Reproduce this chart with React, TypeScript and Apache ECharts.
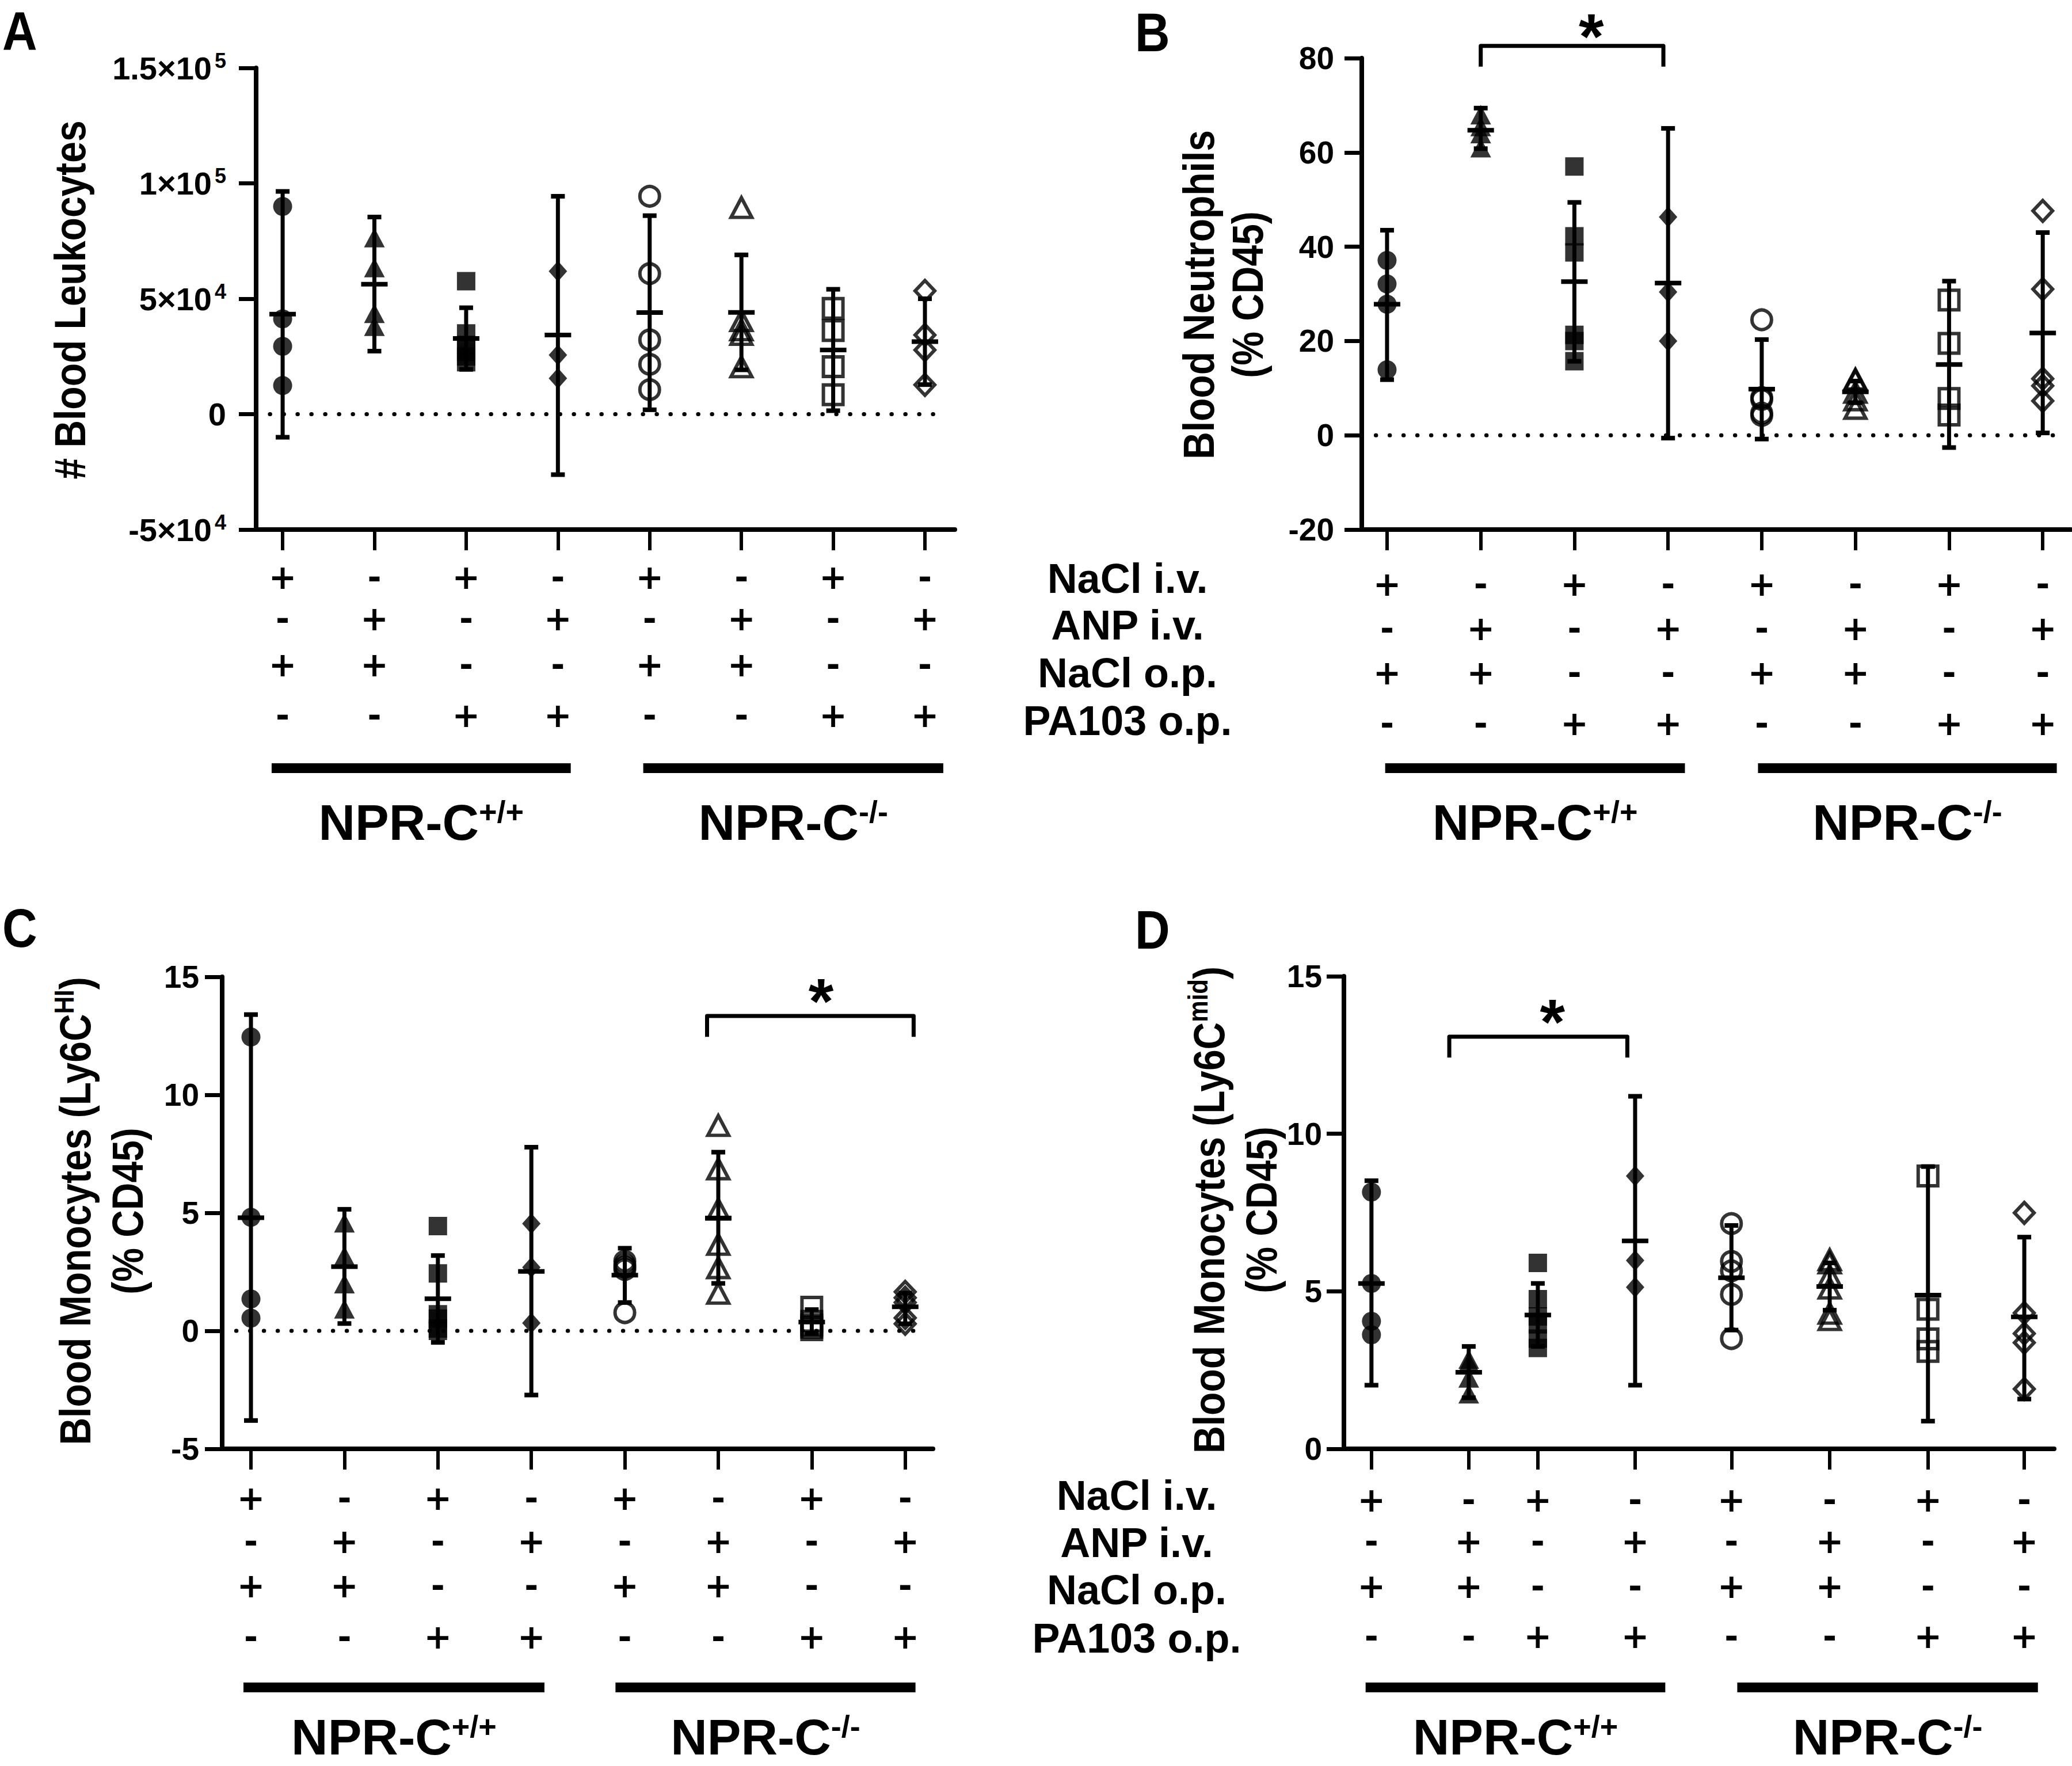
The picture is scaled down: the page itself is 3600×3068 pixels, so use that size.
import React, { useEffect, useRef } from "react";
import * as echarts from "echarts";

const FONT_TICK = "'Liberation Sans', Arial, sans-serif";
const FONT_SIGN = "'DejaVu Sans', 'Liberation Sans', sans-serif";

// ---------------- shared categories ----------------
const naclIV = ["+", "-", "+", "-", "+", "-", "+", "-"];
const anpIV = ["-", "+", "-", "+", "-", "+", "-", "+"];
const naclOP = ["+", "+", "-", "-", "+", "+", "-", "-"];
const pa103OP = ["-", "-", "+", "+", "-", "-", "+", "+"];
const treatmentRows = [naclIV, anpIV, naclOP, pa103OP];
const treatmentNames = ["NaCl i.v.", "ANP i.v.", "NaCl o.p.", "PA103 o.p."];
const genotypeBase = ["NPR-C", "NPR-C"];
const genotypeSup = ["+/+", "-/-"];
const groupSymbols = ["circle", "triangle", "rect", "diamond", "circle", "triangle", "rect", "diamond"];
const groupOpen = [false, false, false, false, true, true, true, true];

// category positions on the x axis
const posUniform = [1, 2, 3, 4, 5, 6, 7, 8];
const posD = [1, 2, 2.71, 3.71, 4.7, 5.71, 6.72, 7.71];

// ---------------- Panel A : # Blood Leukocytes ----------------
const aPoints = [
  [90000, 41300, 29400, 12400],
  [76500, 63500, 43700, 38100],
  [57600, 35000, 30000, 27000, 25000, 22500],
  [61900, 25600, 15500],
  [94400, 60900, 32200, 21600, 10600],
  [89500, 40500, 36500, 34500, 20500],
  [45800, 36200, 20600, 8400],
  [53400, 34300, 27800, 12700],
];
const aMean = [43300, 56300, 32800, 34300, 44000, 44100, 27800, 31400];
const aLow = [-10000, 27300, 19400, -26200, 1900, 19200, 1500, 12800];
const aHigh = [96500, 85400, 46100, 94400, 86000, 69000, 54100, 50000];
const aTickValues = [-50000, 0, 50000, 100000, 150000];
const aTickBase = ["-5×10", "0", "5×10", "1×10", "1.5×10"];
const aTickExp = ["4", "", "4", "5", "5"];

// ---------------- Panel B : Blood Neutrophils ----------------
const bPoints = [
  [37.1, 32.1, 27.8, 13.9],
  [68.0, 65.5, 64.0, 61.0],
  [57.0, 42.2, 38.8, 21.3, 20.0, 15.7],
  [46.3, 30.4, 20.0],
  [24.5, 8.0, 7.6, 4.7, 4.2],
  [11.9, 11.7, 9.1, 7.5, 5.7],
  [28.7, 19.5, 7.8, 4.3],
  [47.6, 31.0, 12.0, 10.5, 7.3],
];
const bMean = [27.8, 64.7, 32.6, 32.3, 9.8, 9.2, 15.0, 21.7];
const bLow = [11.8, 60.8, 15.7, -0.6, -0.8, 6.9, -2.6, 0.5];
const bHigh = [43.5, 69.4, 49.4, 65.1, 20.3, 11.5, 32.7, 43.0];
const bBracket = { from: 2, to: 3.95, top: 82.6, leg: 78.2, starX: 3.18, starY: 86.2 };

// ---------------- Panel C : Blood Monocytes Ly6C HI ----------------
const cPoints = [
  [12.45, 4.81, 1.35, 0.54],
  [4.58, 3.18, 2.0, 0.93],
  [4.44, 2.43, 0.7, 0.52, 0.1, 0.0],
  [4.54, 2.69, 0.33],
  [2.95, 2.8, 2.7, 2.6, 0.77],
  [8.7, 6.86, 5.15, 3.66, 2.67, 1.59],
  [1.0, 0.4, 0.25, 0.15, 0.05],
  [1.65, 1.4, 1.2, 0.55, 0.3],
];
const cMean = [4.79, 2.72, 1.36, 2.52, 2.36, 4.78, 0.37, 1.02];
const cLow = [-3.8, 0.31, -0.49, -2.72, 1.2, 2.01, -0.1, 0.3];
const cHigh = [13.4, 5.15, 3.19, 7.78, 3.5, 7.57, 0.9, 1.6];
const cBracket = { from: 5.88, to: 8.09, top: 13.34, leg: 12.46, starX: 7.1, starY: 14.27 };

// ---------------- Panel D : Blood Monocytes Ly6C mid ----------------
const dPoints = [
  [8.15, 5.25, 4.05, 3.62],
  [2.85, 2.75, 2.25, 1.75],
  [5.9, 4.75, 4.2, 3.95, 3.5, 3.2],
  [8.66, 5.98, 5.13],
  [7.15, 5.95, 5.65, 4.9, 3.5],
  [6.0, 5.9, 5.5, 5.1, 4.3, 4.1],
  [8.66, 4.43, 3.49, 3.09],
  [7.49, 4.31, 3.66, 3.37, 1.9],
];
const dMean = [5.25, 2.43, 4.25, 6.6, 5.43, 5.15, 4.88, 4.19];
const dLow = [2.02, 1.62, 3.25, 2.02, 3.77, 4.4, 0.88, 1.58];
const dHigh = [8.51, 3.25, 5.25, 11.19, 7.09, 5.9, 8.96, 6.72];
const dBracket = { from: 1.8, to: 3.63, top: 13.08, leg: 12.42, starX: 2.86, starY: 13.78 };

// group (genotype) bar spans, in x-axis units
const aSpans = [[0.88, 4.14], [4.93, 8.2]];
const bSpans = [[0.98, 4.18], [4.96, 8.15]];
const cSpans = [[0.92, 4.14], [4.9, 8.11]];
const dSpans = [[0.94, 4.02], [4.76, 7.85]];

// y-axis titles (rich text, one entry per line)
const aTitle = ["{t|# Blood Leukocytes}"];
const bTitle = ["{t|Blood Neutrophils}", "{t|(% CD45)}"];
const cTitle = ["{t|Blood Monocytes (Ly6C}{s|HI}{t|)}", "{t|(% CD45)}"];
const dTitle = ["{t|Blood Monocytes (Ly6C}{s|mid}{t|)}", "{t|(% CD45)}"];

// ---------------- layout ----------------
const layouts = [
  { left: 445, top: 118, width: 1214, height: 802, xMin: 0.711, xMax: 8.326, margin: 52, tickFont: 56, rowOff: [83, 155, 235, 323], genoOff: 508,
    titleX: [122], titleY: 521 },
  { left: 2366, top: 101, width: 1232, height: 819, xMin: 0.73, xMax: 8.3, margin: 48, tickFont: 55, rowOff: [95, 172, 249, 337], genoOff: 508,
    titleX: [2083, 2168], titleY: 512 },
  { left: 386, top: 1697, width: 1235, height: 820, xMin: 0.692, xMax: 8.297, margin: 40, tickFont: 55, rowOff: [86, 161, 238, 327], genoOff: 500,
    titleX: [131, 222], titleY: 2104 },
  { left: 2335, top: 1696, width: 1234, height: 821, xMin: 0.717, xMax: 8.017, margin: 38, tickFont: 55, rowOff: [89, 161, 239, 326], genoOff: 500,
    titleX: [2101, 2192], titleY: 2102 },
];

const panels = [
  { pos: posUniform, points: aPoints, mean: aMean, low: aLow, high: aHigh, yMin: -50000, yMax: 150000, yInt: 50000, spans: aSpans, bracket: null as any, zero: true, title: aTitle },
  { pos: posUniform, points: bPoints, mean: bMean, low: bLow, high: bHigh, yMin: -20, yMax: 80, yInt: 20, spans: bSpans, bracket: bBracket, zero: true, title: bTitle },
  { pos: posUniform, points: cPoints, mean: cMean, low: cLow, high: cHigh, yMin: -5, yMax: 15, yInt: 5, spans: cSpans, bracket: cBracket, zero: true, title: cTitle },
  { pos: posD, points: dPoints, mean: dMean, low: dLow, high: dHigh, yMin: 0, yMax: 15, yInt: 5, spans: dSpans, bracket: dBracket, zero: false, title: dTitle },
];

const filledSizes: any[] = [33, [36, 34], 32, [32, 36]];
const openSizes: any[] = [34, [36, 34], 34, [34, 36]];

const titleRich = {
  t: { fontSize: 66, fontWeight: "bold", fontFamily: FONT_TICK, fill: "#000", lineHeight: 76 },
  s: { fontSize: 42, fontWeight: "bold", fontFamily: FONT_TICK, fill: "#000", verticalAlign: "top", lineHeight: 50 },
};

function buildOption() {
  const grid: any[] = [];
  const xAxis: any[] = [];
  const yAxis: any[] = [];
  const series: any[] = [];
  const graphic: any[] = [];

  panels.forEach((p, pi) => {
    const L = layouts[pi];
    grid.push({ left: L.left, top: L.top, width: L.width, height: L.height, containLabel: false, outerBoundsMode: "none" });
    xAxis.push({
      gridIndex: pi, type: "value", min: L.xMin, max: L.xMax,
      axisLine: { show: true, onZero: false, lineStyle: { color: "#000", width: 8 } },
      axisTick: { show: true, customValues: p.pos, length: 36, lineStyle: { color: "#000", width: 6 } },
      axisLabel: { show: false }, splitLine: { show: false },
    });
    const tickRich = {
      b: { fontSize: L.tickFont, fontWeight: "bold", fontFamily: FONT_TICK, color: "#000", lineHeight: 62 },
      s: { fontSize: 36, fontWeight: "bold", fontFamily: FONT_TICK, color: "#000", verticalAlign: "top", lineHeight: 38, padding: [0, 0, 0, 5] },
    };
    yAxis.push({
      gridIndex: pi, type: "value", min: p.yMin, max: p.yMax, interval: p.yInt,
      axisLine: { show: true, onZero: false, lineStyle: { color: "#000", width: 8 } },
      axisTick: { show: true, length: 30, lineStyle: { color: "#000", width: 7 } },
      splitLine: { show: false },
      axisLabel: pi === 0
        ? {
            margin: L.margin, color: "#000", rich: tickRich,
            formatter: (v: number) => {
              const i = aTickValues.indexOf(v);
              if (i < 0) return "";
              return aTickExp[i] ? `{b|${aTickBase[i]}}{s|${aTickExp[i]}}` : `{b|${aTickBase[i]}}`;
            },
          }
        : { margin: L.margin, color: "#000", fontSize: L.tickFont, fontWeight: "bold", fontFamily: FONT_TICK },
    });

    // y-axis title lines (rotated)
    p.title.forEach((line, li) =>
      graphic.push({
        type: "text", x: L.titleX[li], y: L.titleY, rotation: Math.PI / 2, scaleY: 1.15,
        style: { text: line, rich: titleRich, align: "center", verticalAlign: "middle", fill: "#000" },
      })
    );

    // dotted zero line
    if (p.zero) {
      series.push({
        type: "line", xAxisIndex: pi, yAxisIndex: pi, silent: true, z: 1, symbol: "none",
        data: [[L.xMin + 0.15, 0], [L.xMax - 0.15, 0]],
        lineStyle: { color: "#000", width: 7, type: [0.5, 23.5], cap: "round" },
      });
    }

    // error bars + mean
    series.push({
      type: "custom", xAxisIndex: pi, yAxisIndex: pi, silent: true, z: 3,
      data: p.pos.map((x, g) => [x, p.mean[g], p.low[g], p.high[g]]),
      renderItem: (_params: any, api: any) => {
        const x = api.value(0);
        const m = api.coord([x, api.value(1)]);
        const lo = api.coord([x, api.value(2)]);
        const hi = api.coord([x, api.value(3)]);
        return {
          type: "group",
          children: [
            { type: "line", shape: { x1: lo[0], y1: lo[1], x2: hi[0], y2: hi[1] }, style: { stroke: "#000", lineWidth: 7 } },
            { type: "rect", shape: { x: hi[0] - 12, y: hi[1] - 4, width: 24, height: 8 }, style: { fill: "#000" } },
            { type: "rect", shape: { x: lo[0] - 12, y: lo[1] - 4, width: 24, height: 8 }, style: { fill: "#000" } },
            { type: "rect", shape: { x: m[0] - 23, y: m[1] - 4, width: 46, height: 8 }, style: { fill: "#000" } },
          ],
        };
      },
    });

    // individual points
    const pts: any[] = [];
    p.points.forEach((arr, g) =>
      arr.forEach((v) =>
        pts.push({
          value: [p.pos[g], v],
          symbol: groupSymbols[g],
          symbolSize: (groupOpen[g] ? openSizes : filledSizes)[g % 4],
          itemStyle: groupOpen[g]
            ? { color: "rgba(255,255,255,0)", borderColor: "#000", borderWidth: 6 }
            : { color: "#000", borderWidth: 0 },
        })
      )
    );
    series.push({ type: "scatter", xAxisIndex: pi, yAxisIndex: pi, silent: true, z: 4, clip: false, data: pts });

    // significance bracket
    if (p.bracket) {
      const br = p.bracket;
      series.push({
        type: "custom", xAxisIndex: pi, yAxisIndex: pi, silent: true, z: 3,
        data: [[br.from, br.top, br.to, br.leg, br.starX, br.starY]],
        renderItem: (_params: any, api: any) => {
          const a = api.coord([api.value(0), api.value(1)]);
          const b = api.coord([api.value(2), api.value(1)]);
          const legY = api.coord([api.value(0), api.value(3)])[1];
          const st = api.coord([api.value(4), api.value(5)]);
          return {
            type: "group",
            children: [
              {
                type: "polyline",
                shape: { points: [[a[0], legY], [a[0], a[1]], [b[0], b[1]], [b[0], legY]] },
                style: { stroke: "#000", lineWidth: 7, fill: "none", lineJoin: "round" },
              },
              {
                type: "text", x: st[0], y: st[1] + 13,
                style: { text: "*", fill: "#000", font: `bold 112px ${FONT_TICK}`, align: "center", verticalAlign: "middle" },
              },
            ],
          };
        },
      });
    }

    // treatment +/- rows
    series.push({
      type: "custom", xAxisIndex: pi, yAxisIndex: pi, silent: true, z: 3,
      data: p.pos.map((x, i) => [x, p.yMin, i]),
      renderItem: (_params: any, api: any) => {
        const i = api.value(2);
        const pt = api.coord([api.value(0), api.value(1)]);
        return {
          type: "group",
          children: treatmentRows.map((row, r) => ({
            type: "text", x: pt[0], y: pt[1] + L.rowOff[r],
            style: { text: row[i], fill: "#000", font: `bold 58px ${FONT_SIGN}`, lineHeight: 60, align: "center", verticalAlign: "middle" },
          })),
        };
      },
    });

    // genotype bars and labels
    series.push({
      type: "custom", xAxisIndex: pi, yAxisIndex: pi, silent: true, z: 3,
      data: p.spans.map((s, k) => [s[0], p.yMin, s[1], k]),
      renderItem: (_params: any, api: any) => {
        const a = api.coord([api.value(0), api.value(1)]);
        const b = api.coord([api.value(2), api.value(1)]);
        const k = api.value(3);
        return {
          type: "group",
          children: [
            { type: "rect", shape: { x: a[0], y: a[1] + 406, width: b[0] - a[0], height: 17 }, style: { fill: "#000" } },
            {
              type: "text", x: (a[0] + b[0]) / 2, y: a[1] + L.genoOff,
              style: {
                text: `{b|${genotypeBase[k]}}{s|${genotypeSup[k]}}`,
                align: "center", verticalAlign: "middle", fill: "#000",
                rich: {
                  b: { fontSize: 88, fontWeight: "bold", fontFamily: FONT_TICK, fill: "#000", lineHeight: 90 },
                  s: { fontSize: 54, fontWeight: "bold", fontFamily: FONT_TICK, fill: "#000", verticalAlign: "top", lineHeight: 56 },
                },
              },
            },
          ],
        };
      },
    });
  });

  const letters = [
    { t: "A", x: 4, y: 54 },
    { t: "B", x: 1972, y: 56 },
    { t: "C", x: 4, y: 1612 },
    { t: "D", x: 1972, y: 1615 },
  ];
  letters.forEach((l) =>
    graphic.push({ type: "text", x: l.x, y: l.y, scaleY: 1.12, style: { text: l.t, font: `bold 84px ${FONT_TICK}`, fill: "#000", verticalAlign: "middle" } })
  );
  const rowLabelSets = [
    { x: 1959, ys: [1005, 1086, 1169, 1252] },
    { x: 1975, ys: [2598, 2680, 2762, 2846] },
  ];
  rowLabelSets.forEach((set) =>
    treatmentNames.forEach((nm, r) =>
      graphic.push({
        type: "text", x: set.x, y: set.ys[r],
        style: { text: nm, font: `bold 72px ${FONT_TICK}`, lineHeight: 74, fill: "#000", align: "center", verticalAlign: "middle" },
      })
    )
  );

  return { animation: false, backgroundColor: "#fff", grid, xAxis, yAxis, series, graphic };
}

export default function App() {
  const ref = useRef<HTMLDivElement>(null);
  useEffect(() => {
    const chart = echarts.init(ref.current!, null, { renderer: "svg", width: 3600, height: 3068 });
    chart.setOption(buildOption() as any);
    return () => chart.dispose();
  }, []);
  return <div ref={ref} style={{ position: "absolute", left: 0, top: 0, width: 3600, height: 3068, background: "#fff" }} />;
}
